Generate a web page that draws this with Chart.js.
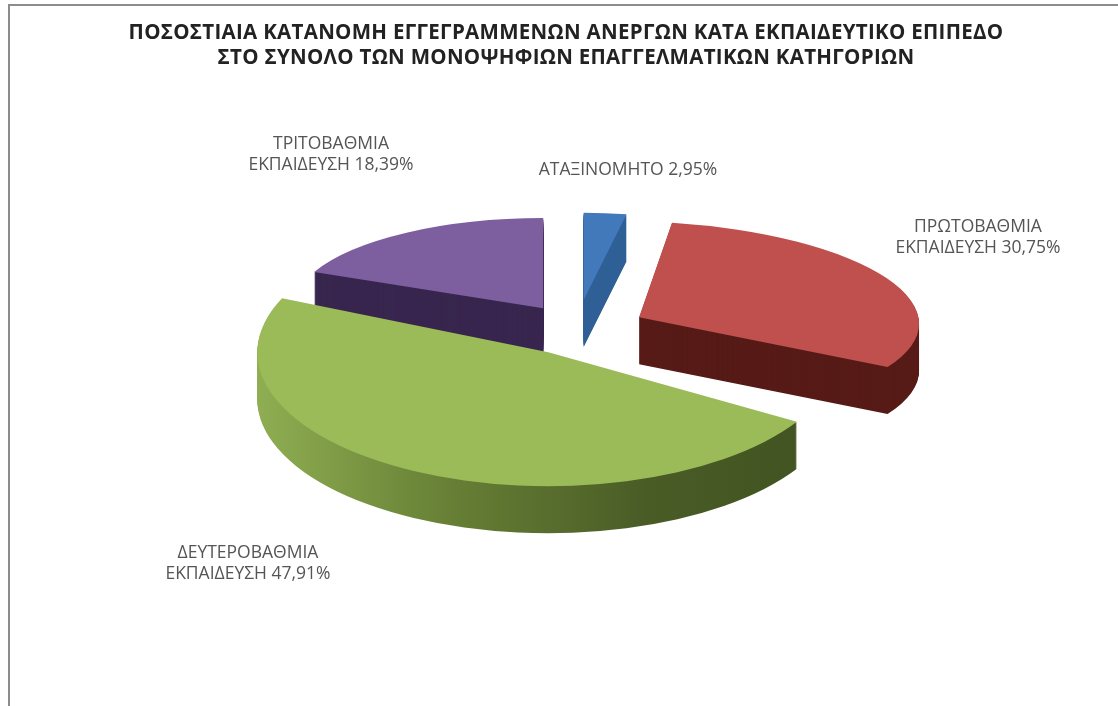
<!DOCTYPE html>
<html>
<head>
<meta charset="utf-8">
<script src="https://cdn.jsdelivr.net/npm/chart.js@4"></script>
<style>
  html, body { margin: 0; padding: 0; background: #fff; overflow: hidden; }
  #wrap { position: relative; width: 1118px; height: 706px; overflow: hidden; }
  #frame { position: absolute; left: 8px; top: 4px; width: 1110px; height: 702px; border-top: 2px solid #8c8c8c; border-left: 2px solid #8c8c8c; box-sizing: border-box; }
  canvas { position: absolute; left: 0; top: 0; }
</style>
</head>
<body>
<div id="wrap">
  <div id="frame"></div>
  <canvas id="pieCanvas" width="1118" height="706"></canvas>
</div>
<script>
// data
const titleLines = [
  "ΠΟΣΟΣΤΙΑΙΑ ΚΑΤΑΝΟΜΗ ΕΓΓΕΓΡΑΜΜΕΝΩΝ ΑΝΕΡΓΩΝ ΚΑΤΑ ΕΚΠΑΙΔΕΥΤΙΚΟ ΕΠΙΠΕΔΟ",
  "ΣΤΟ ΣΥΝΟΛΟ ΤΩΝ ΜΟΝΟΨΗΦΙΩΝ ΕΠΑΓΓΕΛΜΑΤΙΚΩΝ ΚΑΤΗΓΟΡΙΩΝ"
];
const categories = ["ΑΤΑΞΙΝΟΜΗΤΟ", "ΠΡΩΤΟΒΑΘΜΙΑ ΕΚΠΑΙΔΕΥΣΗ", "ΔΕΥΤΕΡΟΒΑΘΜΙΑ ΕΚΠΑΙΔΕΥΣΗ", "ΤΡΙΤΟΒΑΘΜΙΑ ΕΚΠΑΙΔΕΥΣΗ"];
const shares = [2.95, 30.75, 47.91, 18.39];

// styles
const topColors = ["#4279bb", "#c0504d", "#9bbb59", "#7d5fa0"];
const sideColors = ["#2f6096", "#571b17", null, "#38264f"];
const greenSideStops = ["#8fae52", "#667f35", "#4a5c26", "#3f5220"];

// fake 3D: each slice gets its own squash, shear and explode distance
const pieCenter = { x: 577, y: 327 };
const pieRadius = 291;
const pieDepth = 47;
const scaleX = [0.8, 0.96, 1, 0.86];
const scaleY = [0.3, 0.33, 0.46, 0.31];
const shearX = [0, 0.065, 0, 0];
const explode = [90, 73, 62, 72];
const drawOrder = [3, 0, 1, 2];

// where the text labels sit (center x, first line y)
const labelSpots = [[628, 170], [978, 227], [248, 553], [331, 144]];

function placeSlice(ctx, arc, i, dy) {
  const mid = (arc.startAngle + arc.endAngle) / 2;
  ctx.translate(pieCenter.x, pieCenter.y + dy);
  ctx.transform(scaleX[i], 0, shearX[i], scaleY[i], 0, 0);
  ctx.translate(Math.cos(mid) * explode[i], Math.sin(mid) * explode[i]);
  ctx.translate(-arc.x, -arc.y);
}

function drawArcWith(ctx, arc, color) {
  const saved = arc.options;
  arc.options = Object.assign({}, saved, { backgroundColor: color, borderWidth: 0 });
  arc.draw(ctx);
  arc.options = saved;
}

const pie3d = {
  id: "pie3d",
  beforeDraw(chart) {
    chart.ctx.letterSpacing = "0.3px"; // original title runs wider than the font
  },
  beforeDatasetsDraw(chart) {
    const ctx = chart.ctx;
    ctx.letterSpacing = "0px";
    const arcs = chart.getDatasetMeta(0).data;
    drawOrder.forEach(i => {
      const arc = arcs[i];
      let side = sideColors[i];
      if (!side) {
        side = ctx.createLinearGradient(arc.x - pieRadius, 0, arc.x + pieRadius, 0);
        greenSideStops.forEach((c, n) => side.addColorStop(n / (greenSideStops.length - 1), c));
      }
      for (let d = pieDepth; d >= 1; d--) {
        ctx.save();
        placeSlice(ctx, arc, i, d);
        drawArcWith(ctx, arc, side);
        ctx.restore();
      }
    });
    drawOrder.forEach(i => {
      ctx.save();
      placeSlice(ctx, arcs[i], i, 0);
      drawArcWith(ctx, arcs[i], topColors[i]);
      ctx.restore();
    });
    return false; // the slices are already drawn
  },
  afterDraw(chart) {
    const ctx = chart.ctx;
    ctx.save();
    ctx.letterSpacing = "0px";
    ctx.font = "17.5px 'Open Sans'";
    ctx.fillStyle = "#555";
    ctx.textAlign = "center";
    ctx.textBaseline = "middle";
    categories.forEach((name, i) => {
      const pct = shares[i].toFixed(2).replace(".", ",") + "%";
      const parts = name.split(" ");
      const [x, y] = labelSpots[i];
      if (parts.length > 1) {
        ctx.fillText(parts[0], x, y);
        ctx.fillText(parts[1] + " " + pct, x, y + 21);
      } else {
        ctx.fillText(name + " " + pct, x, y);
      }
    });
    ctx.restore();
  }
};

new Chart(document.getElementById("pieCanvas").getContext("2d"), {
  type: "pie",
  plugins: [pie3d],
  data: {
    labels: categories,
    datasets: [{
      data: shares,
      backgroundColor: topColors,
      borderWidth: 0
    }]
  },
  options: {
    responsive: false,
    animation: false,
    radius: pieRadius,
    layout: { padding: { left: 14 } },
    plugins: {
      legend: { display: false },
      tooltip: { enabled: false },
      title: {
        display: true,
        text: titleLines,
        color: "#222",
        font: { family: "'Open Sans'", size: 20.5, weight: "bold", lineHeight: 1.22 },
        padding: { top: 21, bottom: 10 }
      }
    }
  }
});
</script>
</body>
</html>
